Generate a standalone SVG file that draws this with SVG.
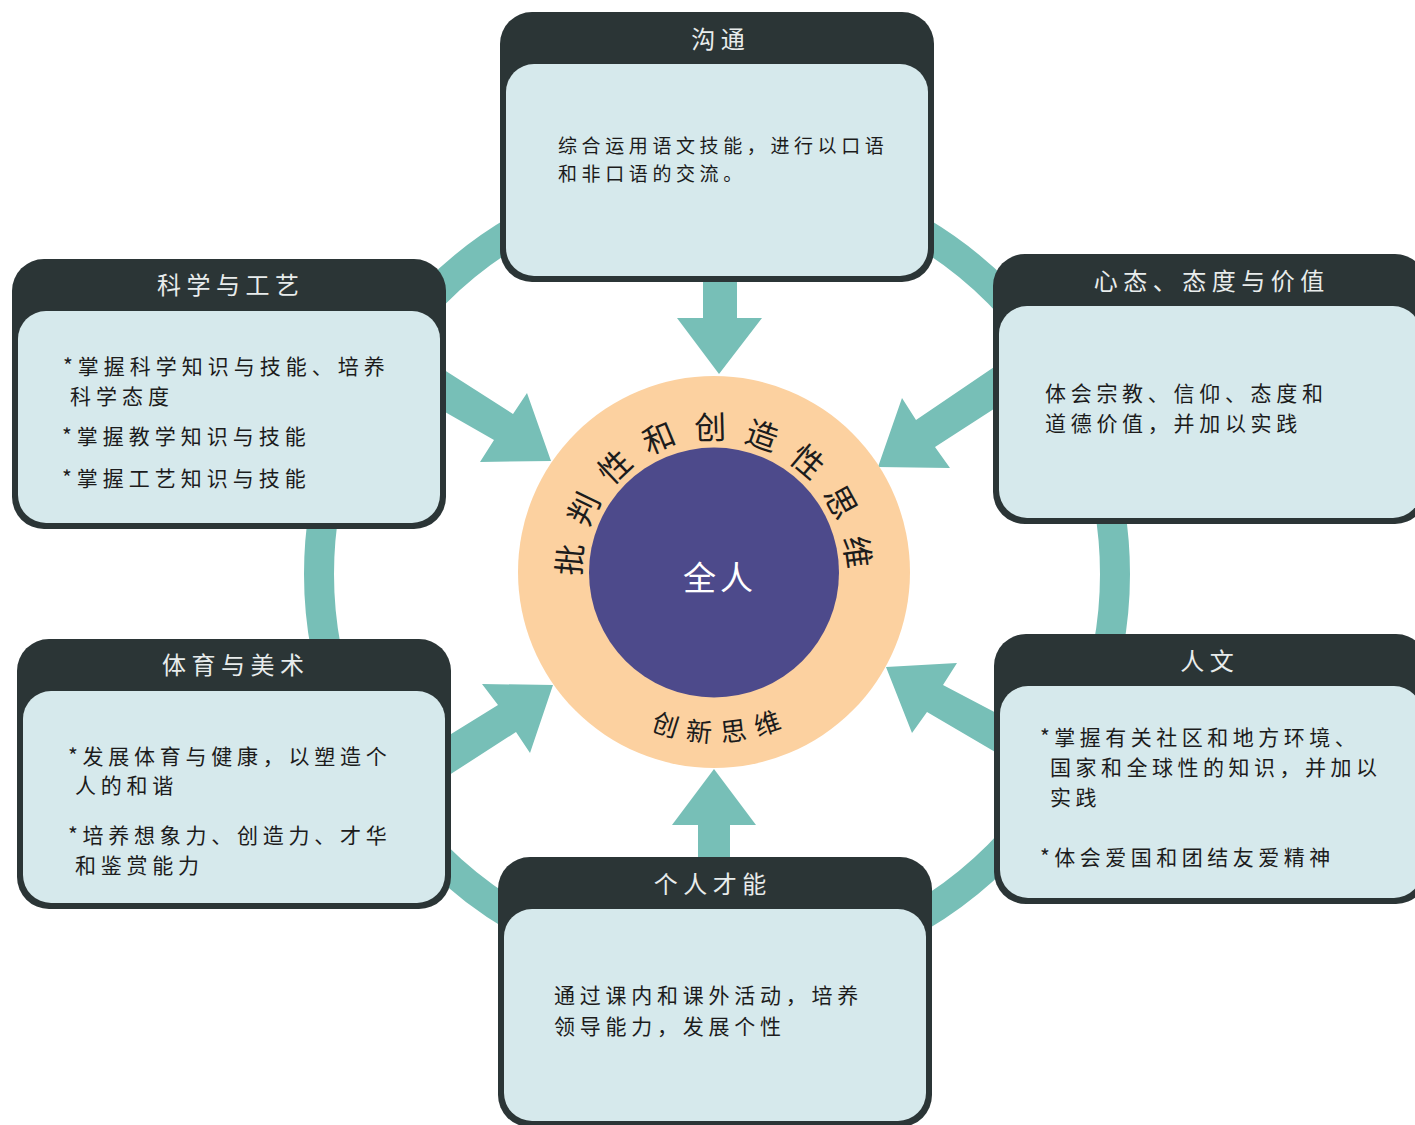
<svg xmlns="http://www.w3.org/2000/svg" width="1415" height="1125" viewBox="0 0 1415 1125">
<defs>
<style>
.outer{fill:#2b3536;}
.inner{fill:#d6e9ec;}
.teal{fill:#77bfb7;}
.title{font-family:"Noto Sans CJK SC","Noto Sans",sans-serif;font-size:24px;fill:#e8ecec;letter-spacing:5.5px;text-anchor:middle;}
.body{font-family:"Noto Sans CJK SC","Noto Sans",sans-serif;font-size:21px;fill:#1c1c1c;}
.small{font-size:19px;letter-spacing:4.6px;}
.arcT{font-family:"Noto Sans CJK SC","Noto Sans",sans-serif;font-size:32px;fill:#1c1c1c;text-anchor:middle;}
.arcB{font-family:"Noto Sans CJK SC","Noto Sans",sans-serif;font-size:26px;fill:#1c1c1c;text-anchor:middle;}
</style>
</defs>
<rect width="1415" height="1125" fill="#ffffff"/>

<g id="connectors">
<circle cx="717" cy="574" r="398" fill="none" stroke="#77bfb7" stroke-width="30"/>
<polygon class="teal" points="703,275 737,275 737,318 762,318 719,374 677,318 703,318"/>
<polygon class="teal" points="438,366 513,414 527,393 551,461 480,462 494,440 438,408"/>
<polygon class="teal" points="1000,363 916,420 902,398 878,467 950,468 935,447 1000,405"/>
<polygon class="teal" points="443,739 498,705 482,684 553,685 530,753 516,732 443,779"/>
<polygon class="teal" points="1002,716 943,685 957,663 886,667 912,733 927,712 1002,756"/>
<polygon class="teal" points="698,865 730,865 730,825 756,825 714,769 672,825 698,825"/>
</g>

<g id="center">
<circle cx="714" cy="572" r="196" fill="#fcd1a0"/>
<circle cx="714" cy="572.5" r="125" fill="#4d4a8b"/>
<text x="720" y="590" font-family="'Noto Sans CJK SC','Noto Sans',sans-serif" font-size="33" fill="#ffffff" letter-spacing="4" text-anchor="middle">全人</text>
<text class="arcT" x="581.5" y="560.6" transform="rotate(-85.1 581.5 560.6)">批</text>
<text class="arcT" x="594.3" y="514.1" transform="rotate(-64.2 594.3 514.1)">判</text>
<text class="arcT" x="622.8" y="475.2" transform="rotate(-43.3 622.8 475.2)">性</text>
<text class="arcT" x="663.3" y="449.0" transform="rotate(-22.4 663.3 449.0)">和</text>
<text class="arcT" x="710.5" y="439.0" transform="rotate(-1.5 710.5 439.0)">创</text>
<text class="arcT" x="758.2" y="446.6" transform="rotate(19.4 758.2 446.6)">造</text>
<text class="arcT" x="800.0" y="470.6" transform="rotate(40.3 800.0 470.6)">性</text>
<text class="arcT" x="830.5" y="507.9" transform="rotate(61.2 830.5 507.9)">思</text>
<text class="arcT" x="845.7" y="553.7" transform="rotate(82.1 845.7 553.7)">维</text>
<text class="arcB" x="662.6" y="734.0" transform="rotate(17.6 662.6 734.0)">创</text>
<text class="arcB" x="698.3" y="741.3" transform="rotate(5.3 698.3 741.3)">新</text>
<text class="arcB" x="734.7" y="740.7" transform="rotate(-7 734.7 740.7)">思</text>
<text class="arcB" x="770.2" y="732.4" transform="rotate(-19.3 770.2 732.4)">维</text>
</g>

<g id="node-goutong">
<rect class="outer" x="500" y="12" width="434" height="270" rx="32"/>
<rect class="inner" x="506" y="64" width="422" height="212" rx="28"/>
<text class="title" x="720.75" y="47.6">沟通</text>
<text class="body small" x="558" y="152.8">综合运用语文技能，进行以口语</text>
<text class="body small" x="558" y="180.8">和非口语的交流。</text>
</g>

<g id="node-kexue">
<rect class="outer" x="12" y="259" width="434" height="270" rx="32"/>
<rect class="inner" x="18" y="311" width="422" height="212" rx="28"/>
<text class="title" x="230.75" y="293.6">科学与工艺</text>
<text class="body" letter-spacing="5"><tspan x="63" y="373.6">*掌握科学知识与技能、培养</tspan><tspan x="70" y="403.6">科学态度</tspan><tspan x="62" y="443.6">*掌握教学知识与技能</tspan><tspan x="62" y="485.6">*掌握工艺知识与技能</tspan></text>
</g>

<g id="node-xintai">
<rect class="outer" x="993" y="254" width="434" height="270" rx="32"/>
<rect class="inner" x="999" y="306" width="422" height="212" rx="28"/>
<text class="title" x="1211.75" y="289.6">心态、态度与价值</text>
<text class="body" letter-spacing="4.7"><tspan x="1045" y="400.6">体会宗教、信仰、态度和</tspan><tspan x="1045" y="430.6">道德价值，并加以实践</tspan></text>
</g>

<g id="node-tiyu">
<rect class="outer" x="17" y="639" width="434" height="270" rx="32"/>
<rect class="inner" x="23" y="691" width="422" height="212" rx="28"/>
<text class="title" x="235.75" y="673.6">体育与美术</text>
<text class="body" letter-spacing="4.75"><tspan x="68" y="763.6">*发展体育与健康，以塑造个</tspan><tspan x="75" y="792.6">人的和谐</tspan><tspan x="68" y="842.6">*培养想象力、创造力、才华</tspan><tspan x="75" y="872.6">和鉴赏能力</tspan></text>
</g>

<g id="node-renwen">
<rect class="outer" x="994" y="634" width="434" height="270" rx="32"/>
<rect class="inner" x="1000" y="686" width="422" height="212" rx="28"/>
<text class="title" x="1209.75" y="669.6">人文</text>
<text class="body" letter-spacing="4.5"><tspan x="1040" y="744.6">*掌握有关社区和地方环境、</tspan><tspan x="1050" y="774.6">国家和全球性的知识，并加以</tspan><tspan x="1050" y="804.6">实践</tspan><tspan x="1040" y="864.6">*体会爱国和团结友爱精神</tspan></text>
</g>

<g id="node-gerencaineng">
<rect class="outer" x="498" y="857" width="434" height="270" rx="32"/>
<rect class="inner" x="504" y="909" width="422" height="212" rx="28"/>
<text class="title" x="712.75" y="892.6">个人才能</text>
<text class="body" letter-spacing="4.75"><tspan x="554" y="1002.6">通过课内和课外活动，培养</tspan><tspan x="554" y="1033.6">领导能力，发展个性</tspan></text>
</g>
</svg>
